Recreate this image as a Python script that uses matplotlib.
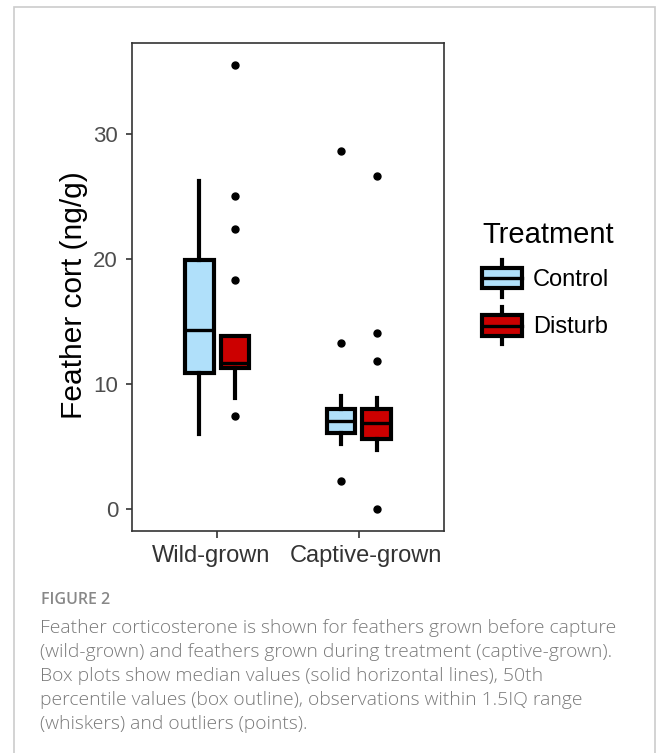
import matplotlib
matplotlib.use("Agg")
import matplotlib.pyplot as plt
import matplotlib.transforms as mtransforms
from matplotlib.patches import Rectangle, Patch
from matplotlib.lines import Line2D
from matplotlib.legend_handler import HandlerBase

plt.rcParams['font.family'] = ['Liberation Sans', 'DejaVu Sans']

# data (ng/g)
groups     = ["Wild-grown", "Captive-grown"]
treatments = ["Control", "Disturb"]
colors     = ["#B0E0FA", "#CC0000"]

# per treatment, per group: whisker low, q1, median, q3, whisker high
whislo = {"Control": [6.0, 5.2],   "Disturb": [8.9, 4.7]}
q1     = {"Control": [10.85, 6.05], "Disturb": [11.3, 5.6]}
med    = {"Control": [14.3, 7.0],  "Disturb": [11.7, 6.85]}
q3     = {"Control": [19.9, 8.0],  "Disturb": [13.8, 8.0]}
whishi = {"Control": [26.2, 9.0],  "Disturb": [13.8, 8.9]}
fliers = {"Control": [[], [28.6, 13.3, 2.2]],
          "Disturb": [[35.5, 25.0, 22.4, 18.3, 7.4], [26.6, 14.05, 11.8, 0.0]]}

caption_head = "FIGURE 2"
caption = ("Feather corticosterone is shown for feathers grown before capture\n"
           "(wild-grown) and feathers grown during treatment (captive-grown).\n"
           "Box plots show median values (solid horizontal lines), 50th\n"
           "percentile values (box outline), observations within 1.5IQ range\n"
           "(whiskers) and outliers (points).")

W, H = 659, 753
fig = plt.figure(figsize=(W / 100, H / 100), dpi=100)

# outer frame of the figure panel
fig.add_artist(Rectangle((14 / W, -0.05), (655 - 14) / W, 1 - 7 / H + 0.05,
                         transform=fig.transFigure, fill=False,
                         edgecolor="#CCCCCC", linewidth=1.2))

ax = fig.add_axes([132 / W, 1 - 531 / H, (444 - 132) / W, (531 - 43) / H])

lw = 3.0
offsets = [-0.125, 0.125]
for k, t in enumerate(treatments):
    stats = []
    for g in range(len(groups)):
        stats.append(dict(whislo=whislo[t][g], q1=q1[t][g], med=med[t][g],
                          q3=q3[t][g], whishi=whishi[t][g], fliers=fliers[t][g]))
    pos = [g + 1 + offsets[k] for g in range(len(groups))]
    ax.bxp(stats, positions=pos, widths=0.2, patch_artist=True, showcaps=False,
           boxprops=dict(facecolor=colors[k], edgecolor="black", linewidth=lw),
           medianprops=dict(color="black", linewidth=2.4),
           whiskerprops=dict(color="black", linewidth=lw),
           flierprops=dict(marker="o", markerfacecolor="black", markeredgecolor="black",
                           markersize=5, linestyle="none"),
           zorder=3)

ax.set_xlim(0.4, 2.6)
ax.set_ylim(-1.775, 37.275)
ax.set_xticks([1, 2])
ax.set_xticklabels(groups)
ax.set_yticks([0, 10, 20, 30])
ax.tick_params(axis="x", labelsize=17, colors="#333333", length=5, width=1.2,
               labelcolor="#333333", pad=5)
ax.tick_params(axis="y", labelsize=16, colors="#333333", length=4.5, width=1.2,
               labelcolor="#4D4D4D", pad=5.5)
# labels in the reference sit a little apart from their ticks
for lab, dx in zip(ax.get_xticklabels(), [-6.5, 7.0]):
    lab.set_transform(lab.get_transform() +
                      mtransforms.ScaledTranslation(dx / 100, 0, fig.dpi_scale_trans))
for s in ax.spines.values():
    s.set_linewidth(1.2)
    s.set_color("#333333")
ax.set_ylabel("Feather cort (ng/g)", fontsize=21.5, labelpad=4)
ax.yaxis.label.set_y(0.484)


class BoxHandler(HandlerBase):
    def create_artists(self, legend, orig_handle, xdescent, ydescent,
                       width, height, fontsize, trans):
        x0, y0 = -xdescent, -ydescent
        cx = x0 + width / 2
        whisk = Line2D([cx, cx], [y0, y0 + height], color="black", lw=lw,
                       transform=trans)
        box = Rectangle((x0, y0 + 0.22 * height), width, 0.56 * height,
                        facecolor=orig_handle.get_facecolor(), edgecolor="black",
                        lw=lw, transform=trans)
        mid = Line2D([x0, x0 + width], [y0 + height / 2] * 2, color="black",
                     lw=2.4, transform=trans)
        return [whisk, box, mid]


handles = [Patch(facecolor=c, edgecolor="black") for c in colors]
leg = fig.legend(handles, treatments, title="Treatment",
                 handler_map={Patch: BoxHandler()},
                 loc="upper left", bbox_to_anchor=(482 / W, 1 - 221 / H),
                 frameon=False, fontsize=17, title_fontsize=21,
                 borderpad=0, borderaxespad=0,
                 handlelength=1.7, handleheight=2.03, handletextpad=0.45,
                 labelspacing=0.45, alignment="left")

fig.text(41 / W, 1 - 600 / H, caption_head, fontsize=11.5, color="#888888",
         family=["Open Sans", "DejaVu Sans"], weight="semibold", va="center")
fig.text(40 / W, 1 - 619 / H, caption, fontsize=13.9, color="#7A7A7A",
         family=["Open Sans", "DejaVu Sans"], weight="light", va="top",
         linespacing=1.42)

fig.savefig("out.png", dpi=100)
